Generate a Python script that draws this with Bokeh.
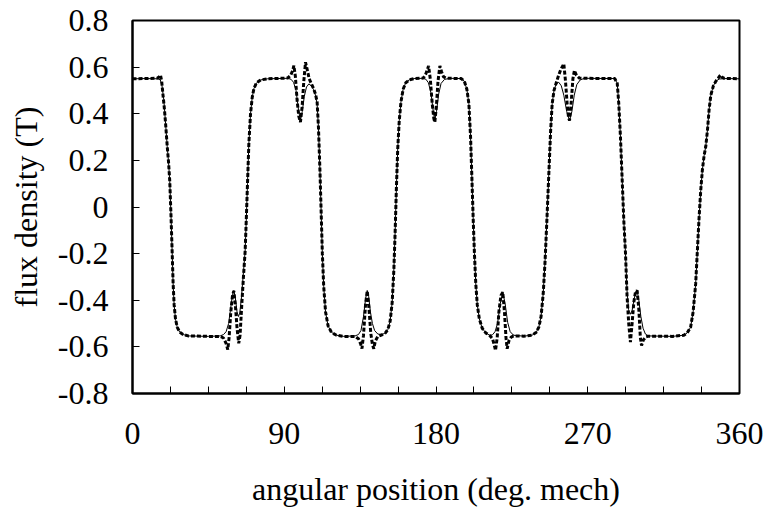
from bokeh.plotting import figure
from bokeh.models import FixedTicker, Range1d, CustomJSTickFormatter
from bokeh.embed import file_html
from bokeh.resources import INLINE

# ---- data ----
angle_solid = [0, 8, 15, 16.5, 17.5, 18.6, 19.6, 20.6, 21.4, 22.1, 22.8, 23.5, 24.1, 24.7, 25.5, 26.5, 28, 30, 33, 45,
               52, 54, 55.5, 57, 58.3, 59.3, 60.1, 61, 62, 62.8, 63.6, 64.6, 65.8, 66.8, 67.5, 68.2, 69, 70, 71, 72,
               73.5, 76, 80, 92, 94, 95.5, 97, 98.4, 99.6, 100.7, 101.9, 103.2, 104.6, 106, 107.3, 108.5, 109.5, 110.3,
               111.2, 112, 112.6, 113.4, 114.5, 116, 118, 121, 125, 132, 134, 135.5, 137, 138.3, 139.2, 140.1, 141.1,
               142.3, 143.6, 145.5, 148, 150, 151.5, 152.8, 154, 155, 155.8, 156.5, 157.3, 158.2, 159.2, 160.5, 162,
               164, 167, 172, 174, 175.5, 177, 178.3, 179.3, 180.3, 181.6, 183, 185, 188, 195, 196.8, 198.3, 199.5,
               200.5, 201.4, 202.1, 202.8, 203.6, 204.5, 205.7, 207.4, 209.5, 212, 213.5, 215, 216.5, 218.1, 219.6,
               221, 222.5, 224, 226, 232, 237, 239.5, 241, 242.3, 243.6, 244.7, 245.8, 247, 248, 248.9, 250, 251.2,
               252.8, 254.3, 255.8, 257.5, 259.2, 260.6, 262, 263.5, 265.5, 268, 286, 287.5, 288.4, 289.4, 290.4,
               291.4, 292.4, 293.3, 294.2, 295.3, 296.3, 297.5, 298.5, 299.3, 300.3, 301.5, 302.8, 304.2, 306, 320,
               327, 329, 331, 332.5, 334, 335, 336, 337, 338, 339, 340, 341, 342, 343, 344.5, 346, 348, 352, 360]
flux_solid = [0.55, 0.551, 0.55, 0.545, 0.52, 0.457, 0.36, 0.26, 0.19, 0.11, -0.03, -0.187, -0.33, -0.42, -0.48, -0.515,
              -0.537, -0.547, -0.553, -0.555,
              -0.553, -0.547, -0.535, -0.5, -0.43, -0.375, -0.358, -0.39, -0.45, -0.47, -0.455, -0.39, -0.28, -0.19,
              -0.05, 0.1, 0.27, 0.4, 0.47, 0.508,
              0.532, 0.545, 0.55, 0.552, 0.548, 0.535, 0.5, 0.42, 0.37, 0.41, 0.475, 0.515, 0.528, 0.52, 0.505, 0.48,
              0.44, 0.34,
              0.15, -0.05, -0.2, -0.34, -0.45, -0.51, -0.538, -0.55, -0.555, -0.553, -0.547, -0.53, -0.47, -0.39,
              -0.358, -0.385, -0.45,
              -0.5, -0.53, -0.545, -0.547, -0.54, -0.525, -0.49, -0.41, -0.27, -0.1, 0.08, 0.25, 0.37, 0.45, 0.505,
              0.532,
              0.545, 0.551, 0.552, 0.548, 0.533, 0.49, 0.415, 0.37, 0.41, 0.485, 0.53, 0.547, 0.552, 0.551, 0.54,
              0.505, 0.443,
              0.3, 0.1, -0.06, -0.2, -0.33, -0.42, -0.48, -0.52, -0.54, -0.551, -0.548, -0.535, -0.5, -0.415, -0.365,
              -0.415, -0.495, -0.535, -0.55, -0.554, -0.55, -0.537, -0.515, -0.47, -0.37, -0.23, -0.05, 0.157, 0.33,
              0.443, 0.5, 0.527,
              0.535, 0.52, 0.48, 0.41, 0.371, 0.41, 0.48, 0.525, 0.545, 0.552, 0.551, 0.53, 0.443, 0.3, 0.12,
              -0.06, -0.2, -0.36, -0.44, -0.46, -0.444, -0.395, -0.362, -0.358, -0.4, -0.47, -0.52, -0.545, -0.553,
              -0.555,
              -0.55, -0.54, -0.516, -0.45, -0.33, -0.19, -0.05, 0.07, 0.16, 0.22, 0.26, 0.33, 0.42, 0.48, 0.52, 0.54,
              0.549, 0.551, 0.55]

angle_dashed = [0, 8, 14.5, 15.8, 16.6, 17.3, 18.1, 18.8, 19.6, 20.6, 21.4, 22.1, 22.8, 23.5, 24.1, 24.7, 25.5, 26.5,
                28, 30, 33, 45, 52, 54, 55.5, 56.5, 57.3, 58.3, 59.3, 60.1, 61, 62, 63, 63.8, 64.8, 65.8, 66.8, 67.5,
                68.2, 69, 70, 71, 72, 73.5, 76, 80, 92, 93.8, 95, 95.7, 96.6, 97.6, 98.6, 99.6, 100.6, 101.6, 102.6,
                103.6, 104.8, 106, 107.3, 108.5, 109.5, 110.3, 111.2, 112, 112.6, 113.4, 114.5, 116, 118, 121, 125,
                132, 134, 135.2, 136.1, 137, 138.2, 139.2, 140.2, 141.3, 142.3, 143.1, 144, 145.5, 148, 150, 151.5,
                152.8, 154, 155, 155.8, 156.5, 157.3, 158.2, 159.2, 160.5, 162, 164, 167, 172.5, 174, 174.9, 175.6,
                176.6, 177.8, 178.7, 179.3, 180.2, 181.2, 182.3, 183.3, 184.5, 186, 188, 195, 196.8, 198.3, 199.5,
                200.5, 201.4, 202.1, 202.8, 203.6, 204.5, 205.7, 207.4, 209.5, 212, 213.5, 214.5, 215.3, 216.3, 217.3,
                218.5, 219.6, 220.6, 221.5, 222.2, 223.2, 224.6, 226, 232, 237, 239.5, 241, 242.3, 243.6, 244.7,
                245.8, 247, 248, 248.9, 250, 251.2, 252.5, 254, 255.8, 256.8, 257.8, 258.6, 259.2, 260.2, 261.2,
                262.1, 263.3, 265, 268, 286, 287.5, 288.4, 289.4, 290.4, 291.4, 292.4, 293.3, 294.3, 295.3, 296.3,
                297.3, 298.3, 299.3, 300.3, 301.2, 301.9, 303, 304.5, 306, 320, 327, 329, 331, 332.5, 334, 335, 336,
                337, 338, 339, 340, 341, 342, 343, 344.5, 346, 347.3, 348.3, 349, 349.8, 351, 360]
flux_dashed = [0.55, 0.551, 0.552, 0.558, 0.566, 0.54, 0.48, 0.43, 0.36, 0.26, 0.19, 0.11, -0.03, -0.187, -0.33, -0.42,
               -0.48, -0.515,
               -0.537, -0.547, -0.553, -0.555, -0.555, -0.562, -0.585, -0.612, -0.56, -0.45, -0.38, -0.36, -0.42,
               -0.52, -0.585, -0.55, -0.42, -0.3, -0.19, -0.05,
               0.1, 0.27, 0.4, 0.47, 0.508, 0.532, 0.545, 0.55, 0.553, 0.565, 0.585, 0.607, 0.56, 0.46, 0.39, 0.364,
               0.43, 0.54, 0.621,
               0.59, 0.55, 0.53, 0.51, 0.485, 0.45, 0.34, 0.15, -0.05, -0.2, -0.34, -0.45, -0.51, -0.538, -0.55,
               -0.555,
               -0.555, -0.565, -0.585, -0.607, -0.55, -0.42, -0.36, -0.43, -0.54, -0.59, -0.608, -0.575, -0.555,
               -0.548, -0.54, -0.525,
               -0.49, -0.41, -0.27, -0.1, 0.08, 0.25, 0.37, 0.45, 0.505, 0.532, 0.545, 0.551, 0.553, 0.572, 0.59,
               0.605,
               0.55, 0.44, 0.38, 0.364, 0.43, 0.54, 0.605, 0.58, 0.558, 0.553, 0.552, 0.551, 0.54, 0.505, 0.443,
               0.3, 0.1, -0.06, -0.2, -0.33, -0.42, -0.48, -0.52, -0.54, -0.552, -0.565, -0.59, -0.615, -0.56, -0.45,
               -0.38, -0.365, -0.45, -0.56, -0.608, -0.575, -0.558, -0.553, -0.554, -0.55, -0.537, -0.515, -0.47,
               -0.37, -0.23,
               -0.05, 0.157, 0.33, 0.443, 0.5, 0.53, 0.56, 0.59, 0.614, 0.54, 0.44, 0.385, 0.371, 0.45, 0.55,
               0.586, 0.565, 0.553, 0.552, 0.551, 0.53, 0.443, 0.3, 0.12, -0.06, -0.2, -0.38, -0.5, -0.58, -0.5,
               -0.41, -0.365, -0.358, -0.44, -0.56, -0.594, -0.57, -0.557, -0.554, -0.555, -0.55, -0.54, -0.516,
               -0.45, -0.33, -0.19, -0.05,
               0.07, 0.16, 0.22, 0.26, 0.33, 0.42, 0.48, 0.52, 0.54, 0.552, 0.562, 0.566, 0.556, 0.552, 0.55]

x_major_ticks = [0, 90, 180, 270, 360]
x_minor_ticks = [22.5, 45, 67.5, 112.5, 135, 157.5, 202.5, 225, 247.5, 292.5, 315, 337.5]
y_ticks = [-0.8, -0.6, -0.4, -0.2, 0, 0.2, 0.4, 0.6, 0.8]
x_title = "angular position (deg. mech)"
y_title = "flux density (T)"

FONT = "'Liberation Serif', 'Times New Roman', serif"

p = figure(width=768, height=519, output_backend="svg", toolbar_location=None,
           x_range=Range1d(0, 360), y_range=Range1d(-0.8, 0.8),
           min_border_left=132, min_border_right=29, min_border_top=20, min_border_bottom=126)

p.line(angle_solid, flux_solid, line_color="black", line_width=1)
p.line(angle_dashed, flux_dashed, line_color="black", line_width=3, line_dash="4 2")

p.grid.visible = False
p.outline_line_color = "black"
p.outline_line_width = 2
p.background_fill_color = "white"
p.border_fill_color = "white"

xa = p.xaxis[0]
xa.ticker = FixedTicker(ticks=x_major_ticks, minor_ticks=x_minor_ticks)
xa.axis_label = x_title
ya = p.yaxis[0]
ya.ticker = FixedTicker(ticks=y_ticks)
ya.formatter = CustomJSTickFormatter(code="return Math.abs(tick) < 1e-9 ? '0' : tick.toFixed(1);")
ya.axis_label = y_title

for ax in (xa, ya):
    ax.axis_line_width = 2
    ax.axis_line_color = "black"
    ax.major_tick_in = 7
    ax.major_tick_out = 0
    ax.minor_tick_in = 7
    ax.minor_tick_out = 0
    ax.major_tick_line_color = "black"
    ax.minor_tick_line_color = "black"
    ax.major_tick_line_width = 1
    ax.minor_tick_line_width = 1
    ax.major_label_text_font = FONT
    ax.major_label_text_font_size = "32px"
    ax.major_label_text_color = "black"
    ax.axis_label_text_font = FONT
    ax.axis_label_text_font_size = "32px"
    ax.axis_label_text_font_style = "normal"
    ax.axis_label_text_color = "black"

xa.major_label_standoff = 29
xa.axis_label_standoff = 24
ya.major_label_standoff = 24
ya.axis_label_standoff = 11

open("out.html", "w").write(file_html(p, INLINE))
